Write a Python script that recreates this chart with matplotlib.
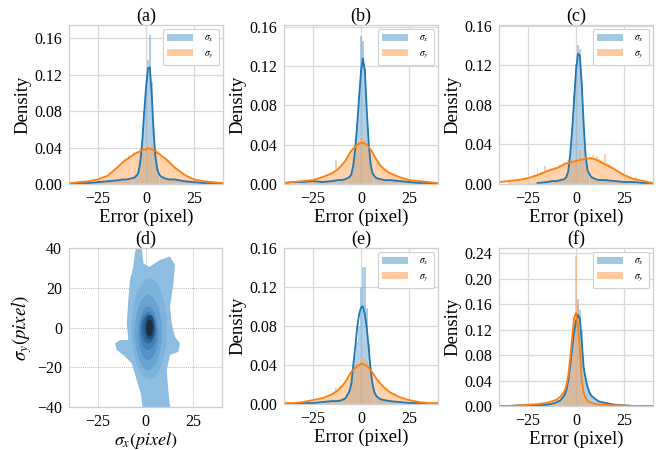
import numpy as np
import matplotlib
matplotlib.use("Agg")
import matplotlib.pyplot as plt
from matplotlib.patches import Ellipse, Patch

plt.rcParams['font.family'] = ['Liberation Serif', 'DejaVu Serif']
plt.rcParams['mathtext.fontset'] = 'stix'

C0 = '#1f77b4'
C1 = '#ff7f0e'

# ---------------- data ----------------
kde_x = [-40, -35, -30, -25, -20, -15, -12, -10, -8, -6, -5, -4, -3, -2, -1, 0,
         1, 2, 3, 4, 5, 6, 7, 8, 10, 12, 15, 20, 25, 30, 35, 40]
bin_centers = list(range(-35, 36))

# (a)
a_kde_sx = [0.000, 0.001, 0.001, 0.002, 0.003, 0.004, 0.005, 0.005, 0.006, 0.007, 0.009, 0.012, 0.024, 0.045, 0.077, 0.105,
            0.127, 0.128, 0.097, 0.055, 0.028, 0.015, 0.010, 0.008, 0.006, 0.005, 0.005, 0.003, 0.002, 0.001, 0.001, 0.000]
a_kde_sy = [0.001, 0.002, 0.003, 0.005, 0.009, 0.018, 0.024, 0.027, 0.030, 0.033, 0.034, 0.035, 0.036, 0.037, 0.038, 0.038,
            0.039, 0.039, 0.038, 0.037, 0.036, 0.034, 0.033, 0.031, 0.028, 0.024, 0.018, 0.010, 0.005, 0.003, 0.002, 0.001]
a_hist_sx = [0, 0, 0.001, 0, 0.001, 0.001, 0, 0.002, 0.001, 0.002,
             0.002, 0.003, 0.002, 0.003, 0.002, 0.004, 0.003, 0.003, 0.004, 0.003,
             0.004, 0.005, 0.004, 0.005, 0.006, 0.005, 0.006, 0.007, 0.006, 0.008,
             0.010, 0.014, 0.026, 0.048, 0.080, 0.108, 0.136, 0.164, 0.112, 0.060,
             0.030, 0.016, 0.011, 0.008, 0.007, 0.006, 0.006, 0.005, 0.006, 0.005,
             0.005, 0.004, 0.004, 0.003, 0.004, 0.003, 0.003, 0.002, 0.002, 0.002,
             0.002, 0.001, 0.001, 0.001, 0.001, 0.001, 0, 0.001, 0, 0, 0]
a_hist_sy = [0.002, 0.001, 0.002, 0.002, 0.003, 0.002, 0.003, 0.003, 0.004, 0.004,
             0.005, 0.005, 0.006, 0.007, 0.008, 0.009, 0.011, 0.012, 0.014, 0.016,
             0.019, 0.020, 0.022, 0.025, 0.027, 0.028, 0.032, 0.030, 0.033, 0.035,
             0.034, 0.036, 0.038, 0.040, 0.038, 0.042, 0.044, 0.040, 0.047, 0.045,
             0.038, 0.036, 0.033, 0.032, 0.030, 0.028, 0.027, 0.026, 0.023, 0.020,
             0.018, 0.016, 0.015, 0.013, 0.011, 0.010, 0.009, 0.008, 0.007, 0.006,
             0.005, 0.004, 0.004, 0.003, 0.003, 0.003, 0.002, 0.002, 0.002, 0.001, 0.001]

# (b)
b_kde_sx = [0.001, 0.002, 0.002, 0.003, 0.002, 0.003, 0.004, 0.004, 0.005, 0.007, 0.010, 0.019, 0.036, 0.060, 0.088, 0.115,
            0.128, 0.115, 0.075, 0.042, 0.020, 0.011, 0.008, 0.006, 0.005, 0.004, 0.004, 0.003, 0.002, 0.001, 0.001, 0.000]
b_kde_sy = [0.001, 0.002, 0.003, 0.004, 0.007, 0.011, 0.015, 0.019, 0.024, 0.031, 0.034, 0.036, 0.038, 0.040, 0.041, 0.042,
            0.042, 0.041, 0.040, 0.038, 0.035, 0.032, 0.028, 0.025, 0.019, 0.015, 0.011, 0.007, 0.004, 0.003, 0.002, 0.001]
b_hist_sx = [0.001, 0.001, 0.002, 0.001, 0.002, 0.002, 0.003, 0.002, 0.003, 0.003,
             0.003, 0.002, 0.003, 0.002, 0.002, 0.003, 0.002, 0.003, 0.003, 0.003,
             0.003, 0.004, 0.003, 0.004, 0.004, 0.005, 0.004, 0.005, 0.006, 0.007,
             0.010, 0.018, 0.034, 0.062, 0.092, 0.151, 0.146, 0.118, 0.070, 0.038,
             0.019, 0.010, 0.008, 0.006, 0.006, 0.005, 0.005, 0.004, 0.004, 0.004,
             0.004, 0.003, 0.004, 0.003, 0.003, 0.003, 0.002, 0.002, 0.002, 0.002,
             0.002, 0.001, 0.001, 0.001, 0.001, 0.001, 0.001, 0, 0, 0, 0]
b_hist_sy = [0.002, 0.002, 0.002, 0.003, 0.002, 0.003, 0.003, 0.004, 0.003, 0.004,
             0.004, 0.005, 0.005, 0.006, 0.006, 0.007, 0.008, 0.009, 0.010, 0.011,
             0.012, 0.013, 0.024, 0.016, 0.018, 0.021, 0.022, 0.026, 0.030, 0.032,
             0.035, 0.037, 0.039, 0.042, 0.044, 0.048, 0.048, 0.046, 0.042, 0.040,
             0.036, 0.032, 0.029, 0.026, 0.023, 0.020, 0.018, 0.016, 0.015, 0.013,
             0.012, 0.011, 0.010, 0.009, 0.008, 0.007, 0.007, 0.006, 0.005, 0.005,
             0.004, 0.004, 0.003, 0.003, 0.003, 0.004, 0.002, 0.002, 0.002, 0.001, 0.001]

# (c)
nan = float('nan')
c_kde_sx = [nan, nan, nan, nan, 0.001, 0.002, 0.003, 0.003, 0.004, 0.005, 0.007, 0.013, 0.030, 0.055, 0.085, 0.115,
            0.132, 0.130, 0.100, 0.060, 0.028, 0.014, 0.010, 0.007, 0.005, 0.004, 0.004, 0.003, 0.002, 0.002, 0.001, 0.001]
c_kde_sy = [0.002, 0.003, 0.004, 0.006, 0.009, 0.013, 0.015, 0.016, 0.018, 0.020, 0.021, 0.021, 0.022, 0.022, 0.023, 0.023,
            0.024, 0.024, 0.025, 0.025, 0.026, 0.026, 0.026, 0.026, 0.025, 0.023, 0.020, 0.015, 0.009, 0.005, 0.003, 0.001]
c_hist_sx = [0, 0, 0, 0, 0, 0, 0, 0, 0, 0,
             0, 0, 0, 0.001, 0, 0.001, 0.001, 0.002, 0.001, 0.002,
             0.002, 0.002, 0.003, 0.002, 0.003, 0.003, 0.004, 0.003, 0.004, 0.005,
             0.007, 0.012, 0.028, 0.058, 0.090, 0.122, 0.141, 0.137, 0.104, 0.058,
             0.026, 0.013, 0.009, 0.007, 0.006, 0.005, 0.004, 0.004, 0.004, 0.004,
             0.004, 0.003, 0.004, 0.003, 0.003, 0.003, 0.002, 0.003, 0.002, 0.002,
             0.002, 0.002, 0.002, 0.002, 0.001, 0.002, 0.001, 0.001, 0.001, 0.001, 0.001]
c_hist_sy = [0.003, 0.002, 0.003, 0.004, 0.003, 0.005, 0.004, 0.005, 0.006, 0.005,
             0.007, 0.006, 0.008, 0.007, 0.009, 0.016, 0.010, 0.012, 0.011, 0.018,
             0.013, 0.014, 0.016, 0.015, 0.017, 0.016, 0.019, 0.018, 0.020, 0.022,
             0.021, 0.024, 0.020, 0.025, 0.023, 0.027, 0.022, 0.035, 0.024, 0.026,
             0.028, 0.026, 0.030, 0.027, 0.029, 0.026, 0.028, 0.025, 0.024, 0.023,
             0.030, 0.021, 0.020, 0.018, 0.017, 0.015, 0.014, 0.012, 0.011, 0.010,
             0.009, 0.008, 0.007, 0.006, 0.005, 0.005, 0.007, 0.004, 0.003, 0.003, 0.002]

# (d) filled density contours: outer boundary, then nested inner levels
d_outer_x = [-5.0, -2.0, -1.1, 2.0, 7.6, 12.8, 15.4, 14.6, 12.8, 13.7, 15.4, 18.0, 17.2, 12.8, 11.1, 11.9,
             12.8, -1.5, -2.5, -4.6, -7.2, -11.6, -15.1, -15.9, -13.3, -9.0, -9.8, -9.0, -8.1, -6.4, -5.5]
d_outer_y = [40, 40, 32.3, 30.5, 34, 35.7, 31.4, 22.2, 10.5, 2.1, -4.6, -8, -12.2, -13.8, -21.4, -31.4,
             -40, -40, -33, -26.4, -18, -13.8, -11.3, -8, -6.3, -6.3, 2.1, 13.8, 23.9, 30.6, 37.3]
d_level_left = [-7.2, -5.5, -3.8, -2.9, -2.0, -0.5, 0.4]
d_level_right = [11.1, 8.5, 6.7, 5.8, 5.0, 4.8, 3.9]
d_level_bottom = [-26.0, -21.4, -16.4, -11.3, -8.0, -6.3, -4.4]
d_level_top = [24.7, 16.4, 10.5, 8.0, 6.3, 6.3, 4.0]

# (e)
e_kde_sx = [0.000, 0.000, 0.001, 0.001, 0.002, 0.003, 0.003, 0.004, 0.006, 0.013, 0.021, 0.040, 0.058, 0.078, 0.092, 0.099,
            0.100, 0.092, 0.078, 0.058, 0.035, 0.020, 0.012, 0.008, 0.005, 0.004, 0.003, 0.002, 0.001, 0.001, 0.000, 0.000]
e_kde_sy = [0.001, 0.001, 0.002, 0.004, 0.006, 0.010, 0.014, 0.018, 0.023, 0.030, 0.033, 0.035, 0.037, 0.039, 0.040, 0.041,
            0.041, 0.040, 0.039, 0.037, 0.035, 0.032, 0.029, 0.026, 0.021, 0.017, 0.012, 0.007, 0.004, 0.002, 0.001, 0.001]
e_hist_sx = [0, 0, 0, 0, 0, 0.001, 0, 0.001, 0.001, 0.001,
             0.001, 0.001, 0.002, 0.001, 0.002, 0.002, 0.002, 0.002, 0.003, 0.002,
             0.003, 0.003, 0.003, 0.004, 0.004, 0.004, 0.006, 0.007, 0.010, 0.014,
             0.022, 0.036, 0.050, 0.064, 0.080, 0.120, 0.141, 0.141, 0.098, 0.062,
             0.038, 0.021, 0.012, 0.008, 0.006, 0.005, 0.004, 0.004, 0.004, 0.003,
             0.003, 0.003, 0.002, 0.002, 0.002, 0.002, 0.001, 0.002, 0.001, 0.001,
             0.001, 0.001, 0.001, 0.001, 0.001, 0, 0, 0, 0, 0, 0]
e_hist_sy = [0.001, 0.001, 0.001, 0.002, 0.001, 0.002, 0.002, 0.002, 0.003, 0.003,
             0.003, 0.004, 0.004, 0.005, 0.005, 0.006, 0.007, 0.008, 0.009, 0.010,
             0.011, 0.012, 0.016, 0.015, 0.018, 0.019, 0.022, 0.025, 0.028, 0.030,
             0.034, 0.036, 0.038, 0.041, 0.040, 0.045, 0.048, 0.046, 0.044, 0.040,
             0.037, 0.033, 0.030, 0.027, 0.025, 0.022, 0.020, 0.017, 0.016, 0.014,
             0.012, 0.011, 0.010, 0.009, 0.008, 0.007, 0.006, 0.006, 0.005, 0.004,
             0.004, 0.003, 0.003, 0.003, 0.002, 0.002, 0.002, 0.001, 0.001, 0.001, 0.001]

# (f)
f_kde_sx = [0.000, 0.000, 0.001, 0.001, 0.001, 0.002, 0.004, 0.006, 0.009, 0.017, 0.025, 0.040, 0.063, 0.090, 0.115, 0.133,
            0.143, 0.137, 0.100, 0.060, 0.043, 0.030, 0.021, 0.016, 0.011, 0.007, 0.005, 0.002, 0.001, 0.000, 0.000, 0.000]
f_kde_sy = [0.000, 0.000, 0.001, 0.002, 0.003, 0.005, 0.008, 0.010, 0.015, 0.023, 0.032, 0.048, 0.075, 0.108, 0.138, 0.146,
            0.125, 0.090, 0.040, 0.020, 0.013, 0.009, 0.006, 0.005, 0.003, 0.002, 0.002, 0.001, 0.001, 0.000, 0.000, 0.000]
f_hist_sx = [0, 0, 0, 0, 0, 0, 0, 0, 0.001, 0,
             0.001, 0.001, 0.001, 0.001, 0.001, 0.001, 0.001, 0.002, 0.002, 0.002,
             0.002, 0.003, 0.003, 0.004, 0.005, 0.006, 0.008, 0.010, 0.012, 0.015,
             0.022, 0.035, 0.060, 0.090, 0.112, 0.130, 0.168, 0.150, 0.120, 0.060,
             0.042, 0.030, 0.021, 0.016, 0.013, 0.011, 0.009, 0.008, 0.007, 0.006,
             0.005, 0.004, 0.004, 0.003, 0.003, 0.002, 0.002, 0.002, 0.001, 0.001,
             0.001, 0.001, 0.001, 0, 0, 0, 0, 0, 0, 0, 0]
f_hist_sy = [0, 0, 0, 0, 0, 0, 0.001, 0, 0.001, 0.001,
             0.001, 0.001, 0.002, 0.001, 0.002, 0.002, 0.003, 0.002, 0.003, 0.003,
             0.004, 0.004, 0.005, 0.006, 0.007, 0.009, 0.010, 0.013, 0.016, 0.020,
             0.028, 0.040, 0.060, 0.100, 0.140, 0.236, 0.160, 0.070, 0.030, 0.018,
             0.012, 0.008, 0.006, 0.005, 0.004, 0.003, 0.003, 0.002, 0.002, 0.002,
             0.002, 0.001, 0.001, 0.001, 0.001, 0.001, 0.001, 0.003, 0.001, 0.001,
             0.001, 0, 0, 0, 0, 0, 0, 0, 0, 0, 0]

dens_ticks = [0.00, 0.04, 0.08, 0.12, 0.16]
dens_ticks_f = [0.00, 0.04, 0.08, 0.12, 0.16, 0.20, 0.24]
err_ticks = [-25, 0, 25]
d_yticks = [-40, -20, 0, 20, 40]

# ---------------- figure ----------------
W, H = 662, 450
fig = plt.figure(figsize=(W / 100, H / 100), dpi=100)


def px_axes(x0, y0, x1, y1):
    return fig.add_axes([x0 / W, 1 - y1 / H, (x1 - x0) / W, (y1 - y0) / H])


GRID = '#d9d9d9'
SPINE = '#cfcfcf'


def style(ax, dotted=False):
    ax.set_axisbelow(True)
    for s in ax.spines.values():
        s.set_color(SPINE)
        s.set_linewidth(0.9)
    if dotted:
        ax.grid(True, color='#bdbdbd', linestyle=(0, (1, 1)), linewidth=0.7)
    else:
        ax.grid(True, color=GRID, linewidth=0.9)
    ax.tick_params(length=0, labelsize=11.5, pad=5)


def dist_panel(ax, title, hsx, hsy, ksx, ksy, ymax, yticks):
    style(ax)
    ax.bar(bin_centers, hsx, width=1.0, color=C0, alpha=0.4, edgecolor='white', linewidth=0.35)
    ax.bar(bin_centers, hsy, width=1.0, color=C1, alpha=0.4, edgecolor='white', linewidth=0.35)
    ax.plot(kde_x, ksx, color=C0, lw=1.3)
    ax.plot(kde_x, ksy, color=C1, lw=1.3)
    ax.set_xlim(-40, 40)
    ax.set_ylim(0, ymax)
    ax.set_xticks(err_ticks)
    ax.set_xticklabels(['\u221225', '0', '25'])
    ax.set_yticks(yticks)
    ax.set_yticklabels(['%.2f' % t for t in yticks])
    ax.set_xlabel('Error (pixel)', fontsize=13.5, labelpad=1)
    ax.set_ylabel('Density', fontsize=13.5, labelpad=2)
    ax.set_title(title, fontsize=13, pad=3)
    handles = [Patch(facecolor=C0, alpha=0.4), Patch(facecolor=C1, alpha=0.4)]
    leg = ax.legend(handles, [r'$\sigma_x$', r'$\sigma_y$'], loc='upper right', fontsize=7,
                    handlelength=2.6, handleheight=0.7, borderaxespad=0.4,
                    frameon=True, fancybox=True, framealpha=1.0, edgecolor='#d0d0d0',
                    borderpad=0.5, labelspacing=0.5, handletextpad=1.2)
    leg.get_frame().set_linewidth(0.8)


ax_a = px_axes(69, 25, 223, 184)
dist_panel(ax_a, '(a)', a_hist_sx, a_hist_sy, a_kde_sx, a_kde_sy, 0.1745, dens_ticks)
ax_b = px_axes(284, 25, 438, 184)
dist_panel(ax_b, '(b)', b_hist_sx, b_hist_sy, b_kde_sx, b_kde_sy, 0.162, dens_ticks)
ax_c = px_axes(499, 25, 653, 184)
dist_panel(ax_c, '(c)', c_hist_sx, c_hist_sy, c_kde_sx, c_kde_sy, 0.161, dens_ticks)
ax_e = px_axes(284, 248, 438, 404)
dist_panel(ax_e, '(e)', e_hist_sx, e_hist_sy, e_kde_sx, e_kde_sy, 0.160, dens_ticks)
ax_f = px_axes(499, 248, 653, 406)
dist_panel(ax_f, '(f)', f_hist_sx, f_hist_sy, f_kde_sx, f_kde_sy, 0.248, dens_ticks_f)

# (d)
ax_d = px_axes(69, 248, 222, 407)
style(ax_d, dotted=True)
level_colors = ['#8dbde0', '#7db2da', '#69a3d1', '#5592c6', '#417fb7', '#30679b', '#254d72', '#1a2c3e']
ax_d.fill(d_outer_x, d_outer_y, color=level_colors[0], lw=0, zorder=2)
for i in range(len(d_level_left)):
    cx = (d_level_left[i] + d_level_right[i]) / 2
    cy = (d_level_bottom[i] + d_level_top[i]) / 2
    w = d_level_right[i] - d_level_left[i]
    h = d_level_top[i] - d_level_bottom[i]
    ax_d.add_patch(Ellipse((cx, cy), w, h, facecolor=level_colors[i + 1], lw=0, zorder=3 + i))
ax_d.set_xlim(-40, 40)
ax_d.set_ylim(-40, 40)
ax_d.set_xticks(err_ticks)
ax_d.set_xticklabels(['\u221225', '0', '25'])
ax_d.set_yticks(d_yticks)
ax_d.set_yticklabels(['\u221240', '\u221220', '0', '20', '40'])
ax_d.set_xlabel(r'$\sigma_x(pixel)$', fontsize=13, labelpad=0)
ax_d.set_ylabel(r'$\sigma_y(pixel)$', fontsize=13.5, labelpad=2)
ax_d.set_title('(d)', fontsize=13, pad=3)

fig.savefig('out.png', dpi=100)
